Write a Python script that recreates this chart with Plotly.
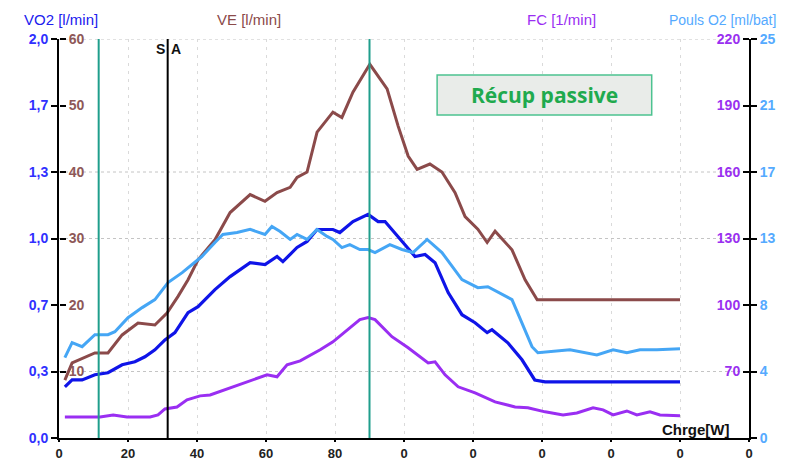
import plotly.graph_objects as go

# ---------------- data ----------------
x_ticks = [0, 20, 40, 60, 80, 100, 120, 140, 160, 180, 200]
x_ticktext = ["0", "20", "40", "60", "80", "0", "0", "0", "0", "0", "0"]

vo2_ticks = [0, 1/3, 2/3, 1, 4/3, 5/3, 2]
vo2_ticktext = ["0,0", "0,3", "0,7", "1,0", "1,3", "1,7", "2,0"]
vo2_grid = [1/3, 1, 4/3, 2]
ve_ticks = [10, 20, 30, 40, 50, 60]
fc_ticks = [70, 100, 130, 160, 190, 220]
po2_ticks = [0, 25/6, 50/6, 12.5, 100/6, 125/6, 25]
po2_ticktext = ["0", "4", "8", "13", "17", "21", "25"]

ve_x = [1.7, 3.8, 10.4, 14.2, 18.3, 22.9, 27.8, 31.3, 34.5, 37.4, 40.3, 45.2, 49.6, 55.4,
        59.7, 63.2, 67.0, 69.0, 71.9, 74.8, 79.4, 82.0, 85.2, 89.6, 90.1, 95.1, 98.3, 101.2,
        103.8, 107.5, 111.0, 114.8, 117.7, 121.4, 124.1, 126.4, 131.3, 135.1, 138.6, 180.0]
ve_y = [8.7, 11.3, 12.8, 12.8, 15.5, 17.3, 17.0, 18.8, 21.3, 23.8, 26.8, 29.8, 33.9, 36.6,
        35.6, 36.9, 37.7, 39.2, 40.0, 46.0, 49.0, 48.2, 52.0, 55.9, 56.2, 52.5, 46.9, 42.4,
        40.4, 41.2, 40.0, 36.9, 33.3, 31.4, 29.4, 31.1, 28.3, 23.8, 20.8, 20.8]

po2_x = [1.7, 3.8, 6.7, 10.4, 14.2, 16.2, 20.0, 24.1, 27.8, 31.6, 35.7, 38.6, 41.4, 45.2,
         47.5, 51.6, 55.4, 59.7, 61.7, 64.1, 67.0, 69.0, 71.9, 74.8, 77.7, 79.4, 82.0, 84.3,
         87.2, 89.6, 91.6, 95.9, 99.4, 102.6, 106.7, 111.0, 116.8, 121.4, 124.3, 131.3,
         134.2, 137.1, 138.8, 142.3, 148.1, 155.9, 160.6, 164.6, 168.4, 173.3, 180.0]
po2_y = [5.03, 5.97, 5.72, 6.47, 6.47, 6.66, 7.54, 8.17, 8.67, 9.74, 10.36, 10.87, 11.37, 12.25,
         12.75, 12.88, 13.07, 12.75, 13.25, 12.94, 12.44, 12.75, 12.44, 13.07, 12.63, 12.44,
         11.93, 12.12, 11.81, 11.81, 11.62, 12.12, 11.81, 11.62, 12.44, 11.62, 9.92, 9.42,
         9.48, 8.67, 7.22, 5.72, 5.34, 5.40, 5.53, 5.21, 5.53, 5.34, 5.53, 5.53, 5.59]

vo2_x = [1.7, 3.8, 6.7, 10.4, 14.2, 18.3, 22.0, 24.9, 27.8, 30.7, 33.6, 37.4, 40.3, 45.2,
         49.6, 55.4, 59.7, 63.2, 64.9, 69.0, 71.9, 74.8, 79.4, 81.4, 85.2, 89.6, 92.5, 94.5,
         103.2, 106.1, 109.0, 112.8, 116.8, 120.6, 124.1, 125.5, 130.1, 134.2, 137.9, 140.9, 180.0]
vo2_y = [0.256, 0.291, 0.291, 0.317, 0.327, 0.367, 0.382, 0.407, 0.442, 0.492, 0.528, 0.628,
         0.658, 0.744, 0.809, 0.879, 0.869, 0.910, 0.884, 0.955, 0.985, 1.045, 1.045, 1.030,
         1.085, 1.121, 1.085, 1.085, 0.910, 0.920, 0.879, 0.729, 0.618, 0.578, 0.528, 0.543,
         0.477, 0.392, 0.291, 0.281, 0.281]

fc_x = [1.7, 11.9, 15.7, 19.7, 26.4, 28.7, 30.7, 34.2, 37.1, 40.9, 43.8, 50.4, 56.2, 60.3,
        63.2, 66.1, 69.9, 75.7, 79.4, 84.3, 87.2, 89.6, 91.6, 96.5, 101.2, 107.0, 109.0, 111.9,
        115.7, 120.6, 126.4, 132.2, 135.9, 140.9, 146.1, 150.1, 154.8, 157.7, 160.6, 164.6,
        167.5, 171.3, 174.2, 180.0]
fc_y = [49.5, 49.5, 50.4, 49.5, 49.5, 50.4, 53.1, 54.0, 57.2, 59.0, 59.4, 63.1, 66.2, 68.5,
        67.6, 73.0, 74.8, 79.8, 83.4, 89.8, 93.4, 94.3, 93.4, 85.7, 80.7, 73.9, 74.4, 68.5,
        63.1, 60.4, 56.3, 54.0, 53.6, 51.8, 50.4, 51.3, 53.6, 52.7, 50.4, 52.2, 50.4, 51.8,
        50.4, 50.0]

markers_teal = [11.5, 90.0]
marker_sa = 31.5

# ---------------- style ----------------
C_VO2 = "#0f14e8"
C_VE = "#8b4a4a"
C_FC = "#9a2ef2"
C_PO2 = "#45a6f5"
FONT = "Liberation Sans"
TICKF = 14

fig = go.Figure()
fig.add_trace(go.Scatter(x=fc_x, y=fc_y, yaxis="y3", mode="lines",
                         line=dict(color=C_FC, width=3), showlegend=False))
fig.add_trace(go.Scatter(x=vo2_x, y=vo2_y, yaxis="y", mode="lines",
                         line=dict(color=C_VO2, width=3.2), showlegend=False))
fig.add_trace(go.Scatter(x=po2_x, y=po2_y, yaxis="y4", mode="lines",
                         line=dict(color=C_PO2, width=3), showlegend=False))
fig.add_trace(go.Scatter(x=ve_x, y=ve_y, yaxis="y2", mode="lines",
                         line=dict(color=C_VE, width=3), showlegend=False))

# page body adds an 8px offset: figure is sized/margined to compensate
fig.update_layout(
    width=782, height=453,
    margin=dict(l=51, r=41, t=31, b=23, autoexpand=False),
    paper_bgcolor="white", plot_bgcolor="white",
    font=dict(family=FONT),
    xaxis=dict(range=[0, 200], tickvals=x_ticks, ticktext=x_ticktext, automargin=False,
               ticks="outside", ticklen=2, tickwidth=2, tickcolor="black",
               showline=True, linecolor="black", linewidth=2,
               showgrid=True, gridcolor="#dadada", griddash="3px,5px", gridwidth=1,
               zeroline=False,
               tickfont=dict(size=13, color="#222222", family=FONT, weight="bold")),
    yaxis=dict(range=[0, 2], tickvals=vo2_ticks, ticktext=vo2_ticktext, automargin=False,
               ticks="outside", ticklen=6, tickwidth=2, tickcolor="black",
               showline=True, linecolor="black", linewidth=2, showgrid=False,
               zeroline=False,
               tickfont=dict(size=TICKF, color="#3030ff", family=FONT, weight="bold")),
    yaxis2=dict(range=[0, 60], tickvals=ve_ticks, overlaying="y", side="right",
                anchor="free", position=0, automargin=False,
                ticks="outside", ticklen=6, tickwidth=2, tickcolor="black",
                showline=False, showgrid=False, zeroline=False,
                tickfont=dict(size=TICKF, color="#8e5858", family=FONT, weight="bold")),
    yaxis3=dict(range=[40, 220], tickvals=fc_ticks, overlaying="y", side="left",
                anchor="free", position=1, automargin=False,
                ticks="outside", ticklen=6, tickwidth=2, tickcolor="black",
                showline=False, showgrid=False, zeroline=False,
                tickfont=dict(size=TICKF, color="#9a30f0", family=FONT, weight="bold")),
    yaxis4=dict(range=[0, 25], tickvals=po2_ticks, ticktext=po2_ticktext, overlaying="y",
                side="right", anchor="x", automargin=False,
                ticks="outside", ticklen=6, tickwidth=2, tickcolor="black",
                showline=True, linecolor="black", linewidth=2, showgrid=False, zeroline=False,
                tickfont=dict(size=TICKF, color="#55aaff", family=FONT, weight="bold")),
)

# dotted horizontal guide lines at selected VO2 levels
for gv in vo2_grid:
    fig.add_shape(type="line", xref="paper", yref="y", x0=0, x1=1, y0=gv, y1=gv,
                  line=dict(color="#c4c4c4", width=1, dash="dot"), layer="below")

# vertical markers
for xv in markers_teal:
    fig.add_shape(type="line", xref="x", yref="paper", x0=xv, x1=xv, y0=0, y1=1,
                  line=dict(color="#1f9e8c", width=2))
fig.add_shape(type="line", xref="x", yref="paper", x0=marker_sa, x1=marker_sa, y0=0, y1=1,
              line=dict(color="black", width=2))
fig.add_annotation(x=marker_sa, y=0.976, xref="x", yref="paper", text="<b>S</b>",
                   showarrow=False, xanchor="right", yanchor="middle", xshift=-1,
                   font=dict(size=14, color="#111", family=FONT))
fig.add_annotation(x=marker_sa, y=0.976, xref="x", yref="paper", text="<b>A</b>",
                   showarrow=False, xanchor="left", yanchor="middle", xshift=1,
                   font=dict(size=14, color="#111", family=FONT))

# box "Récup passive"
fig.add_shape(type="rect", xref="paper", yref="paper", x0=0.548, x1=0.859, y0=0.8095, y1=0.9098,
              fillcolor="#e9ece9", line=dict(color="#4cc290", width=1.5))
fig.add_annotation(x=0.7036, y=0.86, xref="paper", yref="paper", text="<b>Récup passive</b>",
                   showarrow=False, xanchor="center", yanchor="middle",
                   font=dict(size=21, color="#1faa4e", family="Open Sans"))

# axis titles
titles = [("VO2 [l/min]", -0.054, "#2020ee", 15),
          ("VE [l/min]", 0.226, "#8b4a4a", 15),
          ("FC [1/min]", 0.675, "#9a2ef2", 15),
          ("Pouls O2 [ml/bat]", 0.881, "#55aaff", 14)]
for txt, xp, col, fs in titles:
    fig.add_annotation(x=xp, y=1.048, xref="paper", yref="paper", text=txt, showarrow=False,
                       xanchor="left", yanchor="middle", font=dict(size=fs, color=col, family=FONT))

fig.add_annotation(x=0.871, y=0.022, xref="paper", yref="paper", text="<b>Chrge[W]</b>",
                   showarrow=False, xanchor="left", yanchor="middle",
                   font=dict(size=15, color="#111", family=FONT))

fig.write_html("out.html")
